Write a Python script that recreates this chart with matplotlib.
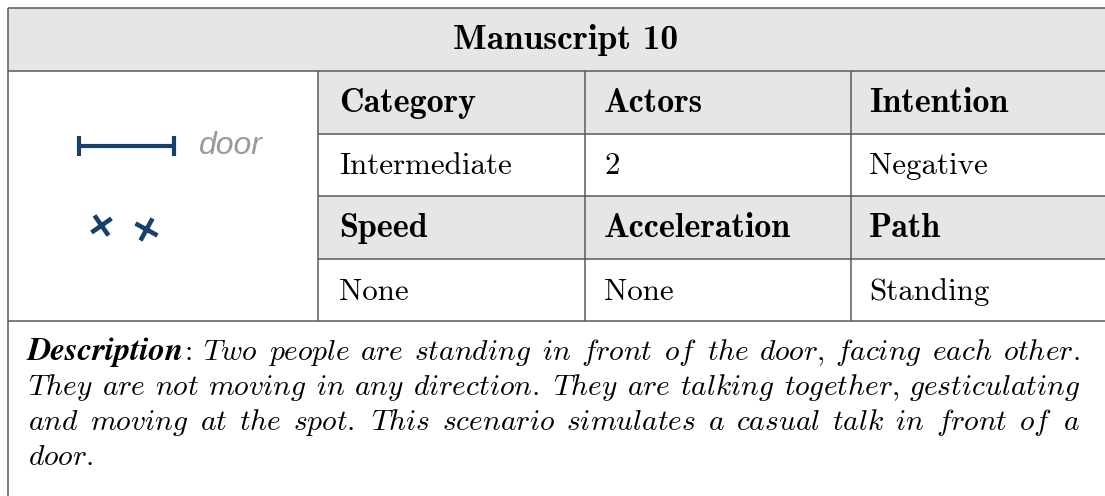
import matplotlib
matplotlib.use("Agg")
import matplotlib.pyplot as plt
from matplotlib.patches import Rectangle
from matplotlib.markers import MarkerStyle
from matplotlib.transforms import Affine2D

plt.rcParams["mathtext.fontset"] = "cm"

# chart content
title = "Manuscript 10"
header_rows = [["Category", "Actors", "Intention"],
               ["Speed", "Acceleration", "Path"]]
value_rows = [["Intermediate", "2", "Negative"],
              ["None", "None", "Standing"]]
desc_label = "Description"
desc_lines = [
    "Two people are standing in front of the door, facing each other.",
    "They are not moving in any direction. They are talking together, gesticulating",
    "and moving at the spot.  This scenario simulates a casual talk in front of a",
    "door.",
]
# little scene sketch on the left (pixel coords)
door_x = [79, 174]
door_y = [146, 146]
door_label = "door"
actor_x = [101, 146]
actor_y = [225, 229]
actor_angle = [-12, 18]

navy = "#17406d"
grid = "#5a5a5a"
fill = "#e6e6e6"

# layout (pixels)
L, R = 7.5, 1118
row_y = [7.5, 71, 133.5, 196, 258.5, 321]
col_x = [318, 585, 851, R]

fig = plt.figure(figsize=(11.05, 4.96), dpi=100)
ax = fig.add_axes([0, 0, 1, 1])
ax.set_xlim(0, 1105)
ax.set_ylim(496, 0)
ax.axis("off")

# backgrounds
ax.add_patch(Rectangle((L, row_y[0]), R - L, row_y[1] - row_y[0], fc=fill, ec="none"))
for r in (1, 3):
    ax.add_patch(Rectangle((col_x[0], row_y[r]), R - col_x[0], row_y[r + 1] - row_y[r],
                           fc=fill, ec="none"))

# grid lines
lw = 1.1
ax.hlines([row_y[0], row_y[1], row_y[5]], L, R, color=grid, lw=lw)
ax.hlines(row_y[2:5], col_x[0], R, color=grid, lw=lw)
ax.vlines(L, row_y[0], 496, color=grid, lw=lw)
ax.vlines(col_x[:3], row_y[1], row_y[5], color=grid, lw=lw)

# title
ax.text(566, 49, title, family="cmb10", fontsize=25.5, ha="center", va="baseline")

# table cells
pad = [21, 19, 18]
for i in range(2):
    hb = row_y[1 + 2 * i]
    vb = row_y[2 + 2 * i]
    for j in range(3):
        ax.text(col_x[j] + pad[j], hb + 41, header_rows[i][j], family="cmb10",
                fontsize=24.5, va="baseline")
        ax.text(col_x[j] + pad[j], vb + 41, value_rows[i][j], family="cmr10",
                fontsize=22.3, va="baseline")

# scene sketch
ax.plot(door_x, door_y, color=navy, lw=3, marker="|", ms=14, mew=3,
        solid_capstyle="butt")
ax.text(199, door_y[0], door_label, family="Liberation Sans", style="italic",
        fontsize=23, color="#9a9a9a", va="center")
for x, y, a in zip(actor_x, actor_y, actor_angle):
    m = MarkerStyle("x", transform=Affine2D().rotate_deg(a))
    ax.plot(x, y, marker=m, ms=12.5, mew=3.3, color=navy, ls="none")

# justified description paragraph (sentence ends get a wider space)
renderer = fig.canvas.get_renderer()
left, right = 28, 1080
baselines = [360, 395, 430, 465]
dsize = 21.3


def width(t):
    return t.get_window_extent(renderer).width


for k, line in enumerate(desc_lines):
    tokens = []
    words = line.split()
    if k == 0:
        lab = ax.text(0, 0, desc_label, family="STIXGeneral", weight="bold",
                      style="italic", fontsize=23.5, va="baseline")
        col = ax.text(0, 0, ":", family="cmr10", fontsize=dsize, va="baseline")
        tokens.append([lab, col])
        words = [":"] + words
    for w in line.split():
        tokens.append([ax.text(0, 0, r"$\mathit{%s}$" % w, fontsize=dsize,
                               va="baseline")])
    widths = [sum(width(p) for p in tok) for tok in tokens]
    weights = [1.5 if w.endswith(".") else 1.0 for w in words[:-1]]
    if k < len(desc_lines) - 1:
        unit = (right - left - sum(widths)) / sum(weights)
    else:
        unit = 9
    x = left
    for n, (tok, tw) in enumerate(zip(tokens, widths)):
        px = x
        for p in tok:
            p.set_position((px, baselines[k]))
            px += width(p)
        if n < len(weights):
            x += tw + unit * weights[n]

fig.savefig("out.png", dpi=100)
